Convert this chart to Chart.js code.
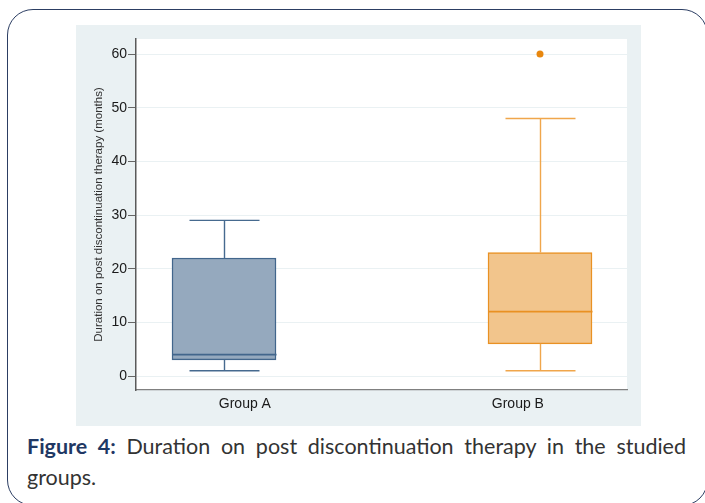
<!DOCTYPE html>
<html>
<head>
<meta charset="utf-8">
<script src="https://cdn.jsdelivr.net/npm/chart.js@4"></script>
<style>
body { margin: 0; background: #fff; width: 705px; height: 503px; overflow: hidden; position: relative; font-family: Lato, sans-serif; }
.frame { position: absolute; left: 7px; top: 9px; width: 701px; height: 497px; border: 1.5px solid #2c3e63; border-radius: 26px; box-sizing: border-box; }
.panel { position: absolute; left: 76px; top: 25px; width: 565px; height: 401px; background: #eaf1f3; }
.caption { position: absolute; left: 27px; top: 431px; width: 659px; font-size: 21.5px; line-height: 31px; color: #333; }
.caption .l1 { text-align: justify; text-align-last: justify; white-space: nowrap; }
.caption b { color: #1f3864; }
</style>
</head>
<body>
<div class="frame"></div>
<div class="panel"><canvas id="box" width="565" height="401"></canvas></div>
<div class="caption">
    <div class="l1"><b>Figure 4:</b> Duration on post discontinuation therapy in the studied</div>
    <div>groups.</div>
</div>

<script>
'use strict'

// values
var groups = ['Group A', 'Group B'];
var lowWhisker = [1, 1];
var q1 = [3, 6];
var median = [4, 12];
var q3 = [22, 23];
var highWhisker = [29, 48];
var outliers = [[], [60]];
var yTicks = [0, 10, 20, 30, 40, 50, 60];

// styling
var fillColors = ['rgb(149, 169, 190)', 'rgb(242, 197, 140)'];
var lineColors = ['rgb(66, 102, 140)', 'rgb(233, 145, 35)'];
var whiskerColors = ['rgb(70, 106, 143)', 'rgb(240, 166, 75)'];
var labelPos = [1.066, 1.93];   // stata puts the group labels a bit off the box centres


var boxData = groups.map(function (g, i) {
    return { x: i + 1, y: [q1[i], q3[i]] };
});

var outlierData = [];
outliers.forEach(function (list, i) {
    list.forEach(function (v) {
        outlierData.push({ x: i + 1, y: v });
    });
});


var whiskers = {
    id: 'whiskers',
    beforeDraw: function (chart) {
        var a = chart.chartArea;
        var ctx = chart.ctx;
        ctx.save();
        ctx.fillStyle = '#fff';
        ctx.fillRect(a.left, a.top, a.right - a.left, a.bottom - a.top);
        ctx.restore();
    },
    afterDatasetsDraw: function (chart) {
        var xs = chart.scales.x;
        var ys = chart.scales.y;
        var ctx = chart.ctx;
        ctx.save();
        groups.forEach(function (g, i) {
            var cx = Math.round(xs.getPixelForValue(i + 1)) + 0.5;
            var yLo = ys.getPixelForValue(lowWhisker[i]);
            var yQ1 = ys.getPixelForValue(q1[i]);
            var yMed = ys.getPixelForValue(median[i]);
            var yQ3 = ys.getPixelForValue(q3[i]);
            var yHi = ys.getPixelForValue(highWhisker[i]);

            ctx.strokeStyle = whiskerColors[i];
            ctx.lineWidth = 1.4;
            ctx.beginPath();
            ctx.moveTo(cx, yQ3); ctx.lineTo(cx, yHi);
            ctx.moveTo(cx - 35, yHi); ctx.lineTo(cx + 35, yHi);
            ctx.moveTo(cx, yQ1); ctx.lineTo(cx, yLo);
            ctx.moveTo(cx - 35, yLo); ctx.lineTo(cx + 35, yLo);
            ctx.stroke();

            ctx.strokeStyle = lineColors[i];
            ctx.lineWidth = 1.6;
            ctx.beginPath();
            ctx.moveTo(cx - 52, yMed); ctx.lineTo(cx + 52, yMed);
            ctx.stroke();
        });
        ctx.restore();
    }
};


var ctx = document.getElementById('box').getContext('2d');
var boxChart = new Chart(ctx, {
    type: 'bar',
    data: {
        datasets: [{
            data: boxData,
            backgroundColor: fillColors,
            borderColor: lineColors,
            borderWidth: 1.5,
            borderSkipped: false,
            barThickness: 104
        }, {
            type: 'scatter',
            data: outlierData,
            backgroundColor: 'rgb(232, 135, 14)',
            borderWidth: 0,
            pointRadius: 3.5
        }]
    },
    options: {
        responsive: false,
        animation: false,
        devicePixelRatio: 1,
        layout: { padding: { top: 14, right: 14, left: 0, bottom: 0 } },
        plugins: {
            legend: { display: false },
            tooltip: { enabled: false }
        },
        scales: {
            x: {
                type: 'linear',
                offset: false,
                bounds: 'data',
                min: 0.7215,
                max: 2.2753,
                afterBuildTicks: function (s) {
                    s.ticks = labelPos.map(function (v) { return { value: v }; });
                },
                afterFit: function (s) { s.height = 36; },
                grid: { display: false, drawTicks: false },
                border: { display: true, color: '#808080', width: 1.3 },
                ticks: {
                    padding: 6,
                    color: '#1a1a1a',
                    font: { family: 'Liberation Sans, Arial, sans-serif', size: 14 },
                    callback: function (v, i) { return groups[i]; }
                }
            },
            y: {
                min: -2.6,
                max: 62.8,
                afterBuildTicks: function (s) {
                    s.ticks = yTicks.map(function (v) { return { value: v }; });
                },
                afterFit: function (s) { s.width = 60; },
                grid: { color: '#eaf1f3', lineWidth: 1, tickColor: '#666', tickLength: 8 },
                border: { color: '#5a5a5a', width: 1.5 },
                ticks: {
                    padding: 1,
                    color: '#1a1a1a',
                    font: { family: 'Liberation Sans, Arial, sans-serif', size: 14 }
                },
                title: {
                    display: true,
                    text: 'Duration on post discontinuation therapy (months)',
                    color: '#333',
                    font: { family: 'Liberation Sans, Arial, sans-serif', size: 11.5 },
                    padding: { top: 16, bottom: 0 }
                }
            }
        }
    },
    plugins: [whiskers]
});
</script>
</body>
</html>
